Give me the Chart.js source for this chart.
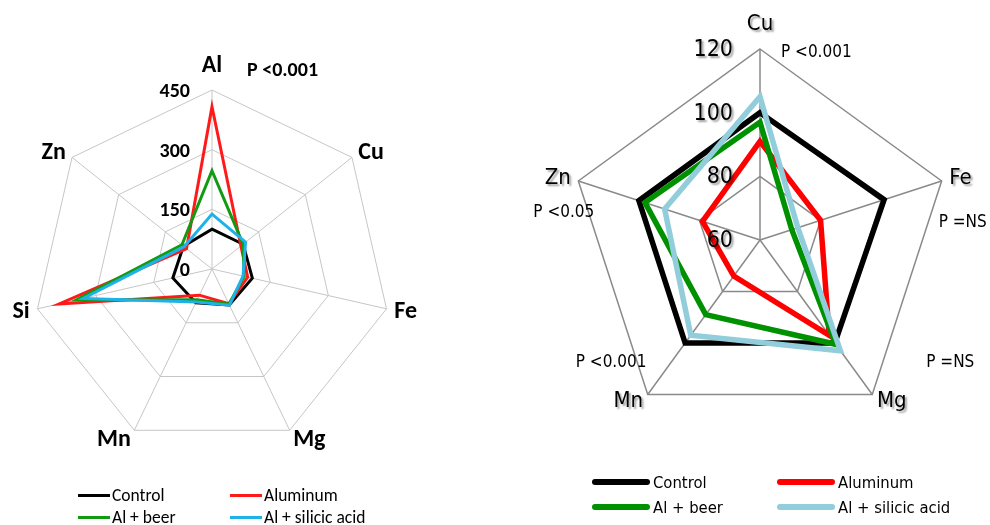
<!DOCTYPE html>
<html><head><meta charset="utf-8">
<script src="https://cdn.jsdelivr.net/npm/chart.js@4.4.1/dist/chart.umd.min.js"></script>
<style>
body{margin:0;width:990px;height:525px;background:#fff;position:relative;overflow:hidden}
canvas{position:absolute;top:0}
.lg{position:absolute;display:flex;align-items:center;white-space:nowrap;color:#000}
.lg i{display:inline-block}
</style></head><body>
<canvas id="c1" width="440" height="525" style="left:0px"></canvas>
<canvas id="c2" width="490" height="525" style="left:500px"></canvas>
<div id="leg1"></div><div id="leg2"></div>
<script>
// ---- data ----
const seriesNames = ['Control','Aluminum','Al + beer','Al + silicic acid'];

const leftAxes = ['Al','Cu','Fe','Mg','Mn','Si','Zn'];
const leftTicks = [0,150,300,450];
const leftControl  = [100,100,104,100,94,101,92];
const leftAluminum = [408,93,92,97,73,394,82];
const leftBeer     = [247,100,83,98,86,350,97];
const leftSilicic  = [138,108,80,101,92,332,90];
const leftPValue = 'P <0.001';

const rightAxes = ['Cu','Fe','Mg','Mn','Zn'];
const rightTicks = [60,80,100,120];
const rightControl  = [100,101,100,100,100];
const rightAluminum = [91,80,97,74,79];
const rightBeer     = [97,70.5,100.5,89,98];
const rightSilicic  = [105,72.5,103,97,91.5];
const rightPValues = ['P <0.001','P =NS','P =NS','P <0.001','P <0.05'];

// ---- styles ----
const leftColors  = ['#000000','#ff1a1a','#129a12','#1fb2e8'];
const rightColors = ['#000000','#ff0000','#009100','#92cddc'];
const leftFont = 'Carlito, Lato, "Liberation Sans", sans-serif';
const rightFont = '"DejaVu Sans Condensed", "DejaVu Sans", sans-serif';

const labelPlugin = {
  id: 'customLabels',
  afterDatasetsDraw(chart, args, o) {
    const s = chart.scales.r, ctx = chart.ctx, r = s.drawingArea;
    ctx.save();
    ctx.fillStyle = '#000';
    ctx.textBaseline = 'middle';
    if (o.shadow) {
      ctx.shadowColor = 'rgba(0,0,0,0.38)';
      ctx.shadowOffsetX = 2; ctx.shadowOffsetY = 2; ctx.shadowBlur = 2;
    }
    ctx.font = o.axisFont;
    chart.data.labels.forEach((lab, i) => {
      const top = i === 0;
      const p = s.getPointPosition(i, r + (top ? o.topPad : o.pad));
      ctx.textAlign = top ? 'center' : (p.x > s.xCenter ? 'left' : 'right');
      ctx.fillText(lab, p.x, p.y + (o.dy ? o.dy[i] : 0));
    });
    ctx.font = o.tickFont;
    ctx.textAlign = 'right';
    o.ticks.forEach(v => {
      const d = s.getDistanceFromCenterForValue(v);
      ctx.fillText(String(v), s.xCenter - o.tickDx, s.yCenter - d + o.tickDy);
    });
    ctx.shadowColor = 'rgba(0,0,0,0)';
    ctx.font = o.pFont;
    ctx.textAlign = 'left';
    o.pTexts.forEach((t, k) => {
      if (!t) return;
      const off = o.pOffsets[k];
      const p = s.getPointPosition(off[0], r);
      ctx.fillText(t, p.x + off[1], p.y + off[2]);
    });
    ctx.restore();
  }
};

function ds(names, arrays, colors, width) {
  return arrays.map((d, i) => ({
    label: names[i], data: d, borderColor: colors[i], backgroundColor: colors[i],
    borderWidth: width, fill: false, pointRadius: 0, pointHoverRadius: 0,
    tension: 0, borderJoinStyle: 'miter', order: 4 - i
  }));
}

new Chart(document.getElementById('c1'), {
  type: 'radar',
  data: { labels: leftAxes, datasets: ds(seriesNames, [leftControl, leftAluminum, leftBeer, leftSilicic], leftColors, 3) },
  options: {
    responsive: false, animation: false, devicePixelRatio: 1,
    layout: { padding: { left: 33, top: 90, right: 49, bottom: 77 } },
    plugins: {
      legend: { display: false }, tooltip: { enabled: false },
      customLabels: {
        axisFont: 'bold 24px ' + leftFont, tickFont: 'bold 20px ' + leftFont, pFont: 'bold 20px ' + leftFont,
        pad: 8, topPad: 24, dy: [0, 1, 1, 3, 3, 1, 1],
        ticks: leftTicks, tickDx: 22, tickDy: 2,
        pTexts: [leftPValue], pOffsets: [[0, 35, -19]], shadow: false
      }
    },
    scales: { r: {
      min: leftTicks[0], max: leftTicks[leftTicks.length - 1],
      ticks: { display: false, stepSize: leftTicks[1] - leftTicks[0] },
      pointLabels: { display: false },
      grid: { color: '#c6c6c6', lineWidth: 1 },
      angleLines: { color: '#c6c6c6', lineWidth: 1 }
    } }
  },
  plugins: [labelPlugin]
});

new Chart(document.getElementById('c2'), {
  type: 'radar',
  data: { labels: rightAxes, datasets: ds(seriesNames, [rightControl, rightAluminum, rightBeer, rightSilicic], rightColors, 5.5) },
  options: {
    responsive: false, animation: false, devicePixelRatio: 1,
    layout: { padding: { left: 69, top: 49, right: 39, bottom: 94 } },
    plugins: {
      legend: { display: false }, tooltip: { enabled: false },
      customLabels: {
        axisFont: '22px ' + rightFont, tickFont: '23px ' + rightFont, pFont: '17px ' + rightFont,
        pad: 8, topPad: 25, dy: [0, 0, 0, 0, 0],
        ticks: rightTicks, tickDx: 27, tickDy: 1,
        pTexts: rightPValues,
        pOffsets: [[0, 21, 4], [1, -3, 42], [2, 54, -32], [3, -72, -32], [4, -45, 32]],
        shadow: true
      }
    },
    scales: { r: {
      min: rightTicks[0], max: rightTicks[rightTicks.length - 1],
      ticks: { display: false, stepSize: rightTicks[1] - rightTicks[0] },
      pointLabels: { display: false },
      grid: { color: '#8a8a8a', lineWidth: 1.5 },
      angleLines: { color: '#8a8a8a', lineWidth: 1.5 }
    } }
  },
  plugins: [labelPlugin]
});

// ---- HTML legends ----
function legend(id, items) {
  const host = document.getElementById(id);
  items.forEach(it => {
    const d = document.createElement('div');
    d.className = 'lg';
    d.style.left = it.x + 'px'; d.style.top = (it.y - 12) + 'px'; d.style.height = '24px';
    d.style.font = it.font;
    const line = document.createElement('i');
    line.style.width = it.w + 'px'; line.style.height = it.h + 'px'; line.style.background = it.color;
    line.style.borderRadius = it.round ? (it.h / 2) + 'px' : '0';
    line.style.marginRight = it.gap + 'px';
    d.appendChild(line);
    d.appendChild(document.createTextNode(it.text));
    host.appendChild(d);
  });
}
const lx = [78, 230], ly = [495, 517];
legend('leg1', seriesNames.map((n, i) => ({
  text: n, color: leftColors[i], x: lx[i % 2], y: ly[Math.floor(i / 2)], w: 32, h: 3, gap: 2, round: false,
  font: '17.5px ' + leftFont
})));
const rx = [592, 777], ry = [482, 507];
legend('leg2', seriesNames.map((n, i) => ({
  text: n, color: rightColors[i], x: rx[i % 2], y: ry[Math.floor(i / 2)], w: 58, h: 6, gap: 3, round: true,
  font: '16.5px ' + rightFont
})));
</script>
</body></html>
